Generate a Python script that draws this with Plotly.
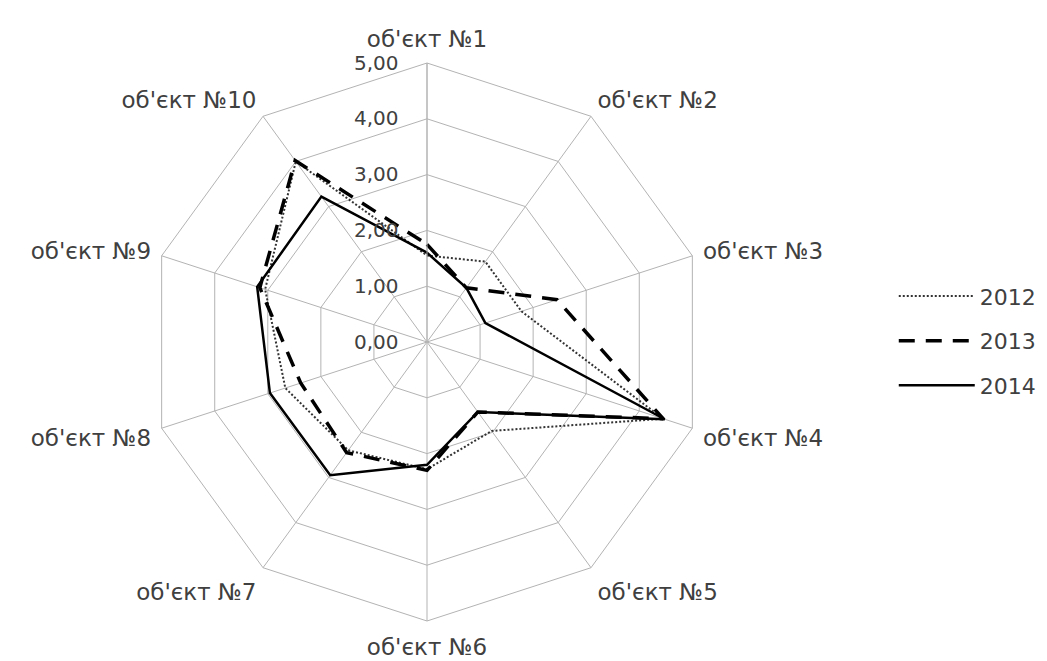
import plotly.graph_objects as go

categories = ["об'єкт №1", "об'єкт №2", "об'єкт №3", "об'єкт №4", "об'єкт №5",
              "об'єкт №6", "об'єкт №7", "об'єкт №8", "об'єкт №9", "об'єкт №10"]
v2012 = [1.55, 1.78, 1.78, 4.45, 1.97, 2.28, 2.40, 2.67, 3.05, 4.00]
v2013 = [1.75, 1.20, 2.45, 4.45, 1.55, 2.30, 2.45, 2.38, 3.15, 4.02]
v2014 = [1.60, 1.20, 1.10, 4.48, 1.55, 2.20, 2.95, 2.96, 3.20, 3.22]
radial_ticks = [0, 1, 2, 3, 4, 5]
radial_ticktext = ["0,00", "1,00", "2,00", "3,00", "4,00", "5,00"]

series = [
    ("2012", v2012, dict(color="#333333", width=2, dash="2px,2px")),
    ("2013", v2013, dict(color="black", width=3.5, dash="16px,11px")),
    ("2014", v2014, dict(color="black", width=2.5, dash="solid")),
]

fig = go.Figure()
for name, vals, line in series:
    fig.add_trace(go.Scatterpolar(
        r=vals + [vals[0]],
        theta=categories + [categories[0]],
        mode="lines",
        name=name,
        line=line,
        legendgroup=name,
    ))

W, H = 1047, 661
# page body has an 8px margin; place the chart so it lands where the reference has it
off = 8
cx, cy, R = 427 - off, 342 - off, 279
fig.update_layout(
    width=W, height=H,
    paper_bgcolor="white",
    margin=dict(l=0, r=0, t=0, b=0),
    font=dict(family="DejaVu Sans, sans-serif", size=20, color="#404040"),
    polar=dict(
        domain=dict(x=[(cx - R) / W, (cx + R) / W], y=[(H - cy - R) / H, (H - cy + R) / H]),
        gridshape="linear",
        bgcolor="white",
        angularaxis=dict(
            direction="clockwise", rotation=90,
            gridcolor="#b3b3b3", linecolor="#b3b3b3", linewidth=1, gridwidth=1,
            showline=True, ticks="outside", ticklen=6, tickcolor="rgba(0,0,0,0)",
            tickfont=dict(size=23, color="#404040"),
        ),
        radialaxis=dict(
            range=[0, 5], tickvals=radial_ticks, ticktext=radial_ticktext,
            angle=90, tickangle=90, side="counterclockwise",
            gridcolor="#b3b3b3", gridwidth=1, showline=True, linecolor="#b3b3b3",
            ticks="outside", ticklen=21, tickcolor="rgba(0,0,0,0)",
            tickfont=dict(size=20, color="#404040"),
        ),
    ),
    showlegend=True,
    legend=dict(
        x=0.846, y=0.4965, xanchor="left", yanchor="middle",
        font=dict(size=22, color="#404040"),
        itemwidth=76, tracegroupgap=13,
        bgcolor="rgba(0,0,0,0)",
    ),
)

fig.write_html("out.html")
